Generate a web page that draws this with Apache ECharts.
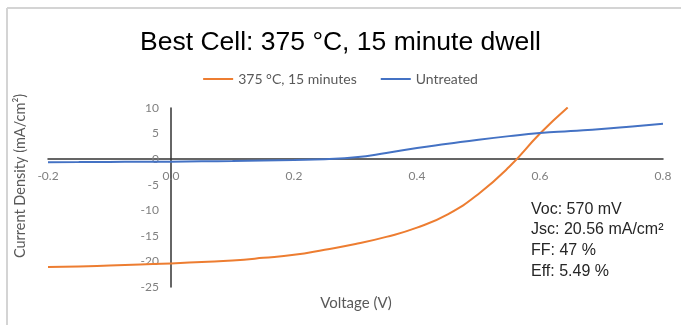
<!DOCTYPE html>
<html>
<head>
<meta charset="utf-8">
<script src="https://cdn.jsdelivr.net/npm/echarts@6/dist/echarts.min.js"></script>
<style>
  html, body { margin: 0; padding: 0; background: #fff; }
  #chart { width: 681px; height: 325px; }
</style>
</head>
<body>
<div id="chart"></div>
<script>
// J-V data (V in volts, J in mA/cm2)
let treatedV = [-0.2, -0.15, -0.1, -0.05, 0, 0.05, 0.1, 0.15, 0.2, 0.25, 0.3, 0.35, 0.4, 0.45, 0.5, 0.55, 0.6, 0.645];
let treatedJ = [-21.1, -21.0, -20.8, -20.6, -20.4, -20.1, -19.8, -19.3, -18.7, -17.7, -16.6, -15.2, -13.4, -10.8, -6.8, -1.5, 5.0, 10.1];
let untreatedV = [-0.2, -0.15, -0.1, -0.05, 0, 0.05, 0.1, 0.15, 0.2, 0.25, 0.3, 0.35, 0.4, 0.45, 0.5, 0.55, 0.6, 0.65, 0.7, 0.75, 0.8];
let untreatedJ = [-0.6, -0.58, -0.55, -0.52, -0.5, -0.43, -0.35, -0.25, -0.15, 0, 0.35, 1.2, 2.2, 3.0, 3.8, 4.5, 5.1, 5.5, 5.9, 6.4, 6.9];

let seriesNames = ['375 °C, 15 minutes', 'Untreated'];
let stats = ['Voc: 570 mV', 'Jsc: 20.56 mA/cm²', 'FF: 47 %', 'Eff: 5.49 %'];

function pairs(xs, ys) {
    return xs.map((x, i) => [x, ys[i]]);
}

// grid box, used to put the axes through the origin
let gridLeft = 48, gridRight = 18, gridTop = 108, gridBottom = 38;
let plotW = 681 - gridLeft - gridRight;
let plotH = 325 - gridTop - gridBottom;
let xOff = -plotW * (0 - (-0.2)) / (0.8 - (-0.2));
let yOff = -plotH * (0 - (-25)) / (10 - (-25));

let chart = echarts.init(document.getElementById('chart'));

let option = {
    animation: false,
    backgroundColor: '#fff',
    title: {
        text: 'Best Cell: 375 °C, 15 minute dwell',
        left: 'center',
        top: 24,
        textStyle: { fontFamily: 'Liberation Sans', fontSize: 26.5, fontWeight: 'normal', color: '#000' }
    },
    legend: {
        top: 67,
        left: 'center',
        icon: 'rect',
        itemWidth: 30,
        itemHeight: 2,
        itemGap: 24,
        textStyle: { fontFamily: 'Lato', fontSize: 14, color: '#595959' },
        data: seriesNames
    },
    grid: { left: gridLeft, right: gridRight, top: gridTop, bottom: gridBottom },
    xAxis: {
        type: 'value',
        min: -0.2, max: 0.8, interval: 0.2,
        offset: yOff,
        axisLine: { onZero: false, lineStyle: { color: '#333', width: 1.5 } },
        axisTick: { show: false },
        splitLine: { show: false },
        axisLabel: {
            margin: 11,
            color: '#808080',
            fontFamily: 'Lato',
            fontSize: 12,
            formatter: v => v.toFixed(1)
        }
    },
    yAxis: {
        type: 'value',
        min: -25, max: 10, interval: 5,
        offset: xOff,
        axisLine: { onZero: false, lineStyle: { color: '#333', width: 1.5 } },
        axisTick: { show: false },
        splitLine: { show: false },
        axisLabel: { margin: 12, color: '#808080', fontFamily: 'Lato', fontSize: 12 }
    },
    series: [
        {
            name: seriesNames[0],
            type: 'line',
            smooth: true,
            symbol: 'none',
            lineStyle: { color: '#ED7D31', width: 2 },
            itemStyle: { color: '#ED7D31' },
            data: pairs(treatedV, treatedJ)
        },
        {
            name: seriesNames[1],
            type: 'line',
            smooth: true,
            symbol: 'none',
            lineStyle: { color: '#4472C4', width: 2 },
            itemStyle: { color: '#4472C4' },
            data: pairs(untreatedV, untreatedJ)
        }
    ],
    graphic: [
        // light frame on the top and left
        { type: 'line', shape: { x1: 7, y1: 8, x2: 681, y2: 8 }, style: { stroke: '#d4d4d4', lineWidth: 2 } },
        { type: 'line', shape: { x1: 7, y1: 8, x2: 7, y2: 325 }, style: { stroke: '#d4d4d4', lineWidth: 2 } },
        {
            type: 'text', x: 20, y: 176, rotation: Math.PI / 2,
            style: {
                text: 'Current Density (mA/cm²)', fill: '#595959',
                font: '14.5px Lato', textAlign: 'center', textVerticalAlign: 'middle'
            }
        },
        {
            type: 'text', x: 356, y: 303,
            style: {
                text: 'Voltage (V)', fill: '#595959',
                font: '15px Lato', textAlign: 'center', textVerticalAlign: 'middle'
            }
        },
        {
            type: 'text', left: 531, top: 199,
            style: {
                text: stats.join('\n'), fill: '#262626',
                font: '16px "Liberation Sans"', lineHeight: 20.7
            }
        }
    ]
};

chart.setOption(option);
</script>
</body>
</html>
